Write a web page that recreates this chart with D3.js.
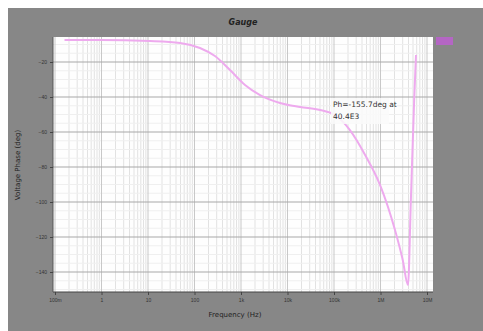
<!DOCTYPE html>
<html>
<head>
<meta charset="utf-8">
<script src="https://cdn.jsdelivr.net/npm/d3@7"></script>
<style>
  body { margin: 0; background: #fff; }
  svg { display: block; font-family: "DejaVu Sans", sans-serif; }
</style>
</head>
<body>
<svg id="chart" width="483" height="331"></svg>
<script>
'use strict';
// frequency (Hz) and voltage phase (deg)
let freq  = [0.16, 0.93, 11, 49, 131, 275, 580, 1220, 2570, 6900, 18600, 50000, 105000, 220000, 467000, 980000, 2.05e6, 3.0e6, 3.9e6, 4.5e6, 5.3e6, 5.8e6];
let phase = [-7.4, -7.4, -8.0, -9.1, -12, -16.6, -24.6, -33.1, -38.9, -43.4, -45.7, -47.4, -50.3, -58.9, -73.1, -90.3, -116, -133, -147.4, -98.9, -41.7, -16];
let yTicks = [-20, -40, -60, -80, -100, -120, -140];
let xTicks = [0.1, 1, 10, 100, 1e3, 1e4, 1e5, 1e6, 1e7];
let xTickLabels = ["100m", "1", "10", "100", "1k", "10k", "100k", "1M", "10M"];
let noteLines = ["Ph=-155.7deg at", "40.4E3"];

let svg = d3.select("#chart");

svg.append("rect")
    .attr("x", 8).attr("y", 8)
    .attr("width", 475).attr("height", 323)
    .attr("fill", "#878787");

let plot = {left: 53, right: 433, top: 37, bottom: 292};

let x = d3.scaleLog()
    .domain([0.1, 1e7])
    .range([55, 427]);

let y = d3.scaleLinear()
    .domain([-20 - (plot.bottom - 62) / 35 * 20, -20 + (62 - plot.top) / 35 * 20])
    .range([plot.bottom, plot.top]);

svg.append("rect")
    .attr("x", plot.left).attr("y", plot.top)
    .attr("width", plot.right - plot.left).attr("height", plot.bottom - plot.top)
    .attr("fill", "#fefefe");

// minor vertical grid
let minors = [];
for (let d = -1; d < 7; d++) {
    for (let k = 2; k < 10; k++) minors.push(k * Math.pow(10, d));
}
svg.append("g")
    .selectAll("line")
    .data(minors)
    .enter().append("line")
    .attr("x1", d => x(d)).attr("x2", d => x(d))
    .attr("y1", plot.top).attr("y2", plot.bottom)
    .attr("stroke", "#e2e2e2").attr("stroke-width", 1);

// minor horizontal grid
let yMinor = d3.range(-150, 0, 5).filter(v => v % 20 !== 0 && y(v) > plot.top && y(v) < plot.bottom);
svg.append("g")
    .selectAll("line")
    .data(yMinor)
    .enter().append("line")
    .attr("x1", plot.left).attr("x2", plot.right)
    .attr("y1", d => y(d)).attr("y2", d => y(d))
    .attr("stroke", "#efefef").attr("stroke-width", 1);

// major grid
svg.append("g")
    .selectAll("line")
    .data(xTicks)
    .enter().append("line")
    .attr("x1", d => x(d)).attr("x2", d => x(d))
    .attr("y1", plot.top).attr("y2", plot.bottom)
    .attr("stroke", "#c8c8c8").attr("stroke-width", 1);

svg.append("g")
    .selectAll("line")
    .data(yTicks)
    .enter().append("line")
    .attr("x1", plot.left).attr("x2", plot.right)
    .attr("y1", d => y(d)).attr("y2", d => y(d))
    .attr("stroke", "#a8a8a8").attr("stroke-width", 1);

// axes
svg.append("g")
    .attr("transform", "translate(0," + plot.bottom + ")")
    .call(d3.axisBottom(x).tickValues(xTicks).tickFormat((d, i) => xTickLabels[i]).tickSize(3).tickSizeOuter(0))
    .call(g => g.select(".domain").attr("stroke", "#444").attr("d", "M" + plot.left + ",0H" + plot.right))
    .call(g => g.selectAll("line").attr("stroke", "#444"))
    .call(g => g.selectAll("text").attr("fill", "#333").style("font-size", "5px"));

svg.append("g")
    .attr("transform", "translate(" + plot.left + ",0)")
    .call(d3.axisLeft(y).tickValues(yTicks).tickSize(3).tickSizeOuter(0))
    .call(g => g.select(".domain").attr("stroke", "#555").attr("d", "M0," + plot.top + "V" + plot.bottom))
    .call(g => g.selectAll("line").attr("stroke", "#444"))
    .call(g => g.selectAll("text").attr("fill", "#333").style("font-size", "5px"));

// the curve
let pts = freq.map((f, i) => ({f: f, p: phase[i]}));
let line = d3.line()
    .curve(d3.curveMonotoneX)
    .x(d => x(d.f))
    .y(d => y(d.p));

svg.append("path")
    .attr("d", line(pts))
    .attr("fill", "none")
    .attr("stroke", "#eeaaee")
    .attr("stroke-width", 2);

// annotation
let note = svg.append("g").attr("transform", "translate(333,107)");
note.append("rect")
    .attr("x", -2).attr("y", -9)
    .attr("width", 58).attr("height", 26)
    .attr("fill", "#fafafa").attr("opacity", 0.85);
note.selectAll("text")
    .data(noteLines)
    .enter().append("text")
    .attr("x", 0).attr("y", (d, i) => i * 12)
    .attr("fill", "#333")
    .style("font-size", "7.5px")
    .text(d => d);

// legend swatch
svg.append("rect")
    .attr("x", 436).attr("y", 37)
    .attr("width", 17).attr("height", 8)
    .attr("fill", "#b466c4");

// title and labels
svg.append("text")
    .attr("x", 243).attr("y", 25)
    .attr("text-anchor", "middle")
    .style("font-size", "8px").style("font-weight", "bold").style("font-style", "italic")
    .attr("fill", "#222")
    .text("Gauge");

svg.append("text")
    .attr("x", 235).attr("y", 317)
    .attr("text-anchor", "middle")
    .style("font-size", "7px")
    .attr("fill", "#222")
    .text("Frequency (Hz)");

svg.append("text")
    .attr("transform", "translate(20," + 165 + ") rotate(-90)")
    .attr("text-anchor", "middle")
    .style("font-size", "7px")
    .attr("fill", "#222")
    .text("Voltage Phase (deg)");
</script>
</body>
</html>
